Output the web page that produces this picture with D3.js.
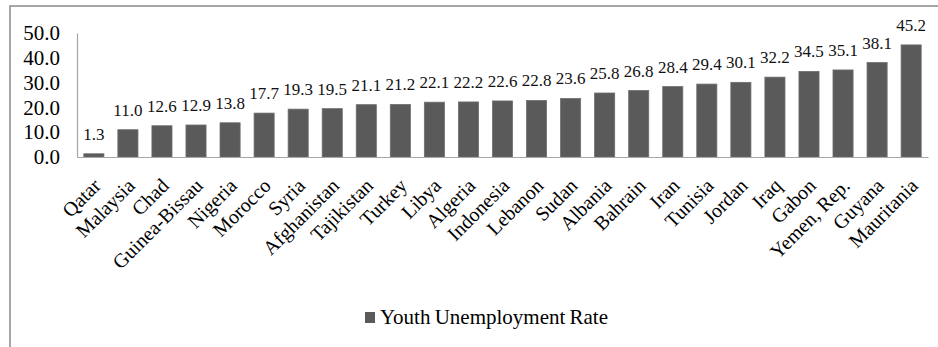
<!DOCTYPE html>
<html><head><meta charset="utf-8">
<script src="https://cdn.jsdelivr.net/npm/d3@7/dist/d3.min.js"></script>
<style>body{margin:0;background:#fff}svg{display:block}</style>
</head><body><svg id="c" width="938" height="347"></svg>
<script>
const categories = ["Qatar","Malaysia","Chad","Guinea-Bissau","Nigeria","Morocco","Syria","Afghanistan","Tajikistan","Turkey","Libya","Algeria","Indonesia","Lebanon","Sudan","Albania","Bahrain","Iran","Tunisia","Jordan","Iraq","Gabon","Yemen, Rep.","Guyana","Mauritania"];
const values = [1.3,11.0,12.6,12.9,13.8,17.7,19.3,19.5,21.1,21.2,22.1,22.2,22.6,22.8,23.6,25.8,26.8,28.4,29.4,30.1,32.2,34.5,35.1,38.1,45.2];
const yTicks = [0,10,20,30,40,50];
const seriesName = "Youth Unemployment Rate";
const FONT = "'Liberation Serif', 'Times New Roman', Times, serif";

const svg = d3.select("#c");
svg.append("rect").attr("x",10).attr("y",6).attr("width",1000).attr("height",400)
  .attr("fill","none").attr("stroke","#8a8a8a").attr("stroke-width",1.5);

const x = d3.scaleBand().domain(categories).range([77,928]).paddingInner(0.41).paddingOuter(0.2);
const y = d3.scaleLinear().domain([0,50]).range([157,33]);

const ya = svg.append("g").attr("transform","translate(77,0)")
  .call(d3.axisLeft(y).tickValues(yTicks).tickFormat(d3.format(".1f")).tickSize(0).tickPadding(17));
ya.attr("font-family",null).attr("font-size",null);
ya.select(".domain").attr("stroke","#a6a6a6").attr("stroke-width",1.2);
ya.selectAll("text").style("font-family",FONT).style("font-size","21px").attr("fill","#000");

svg.append("g").selectAll("rect").data(values).join("rect")
  .attr("x",(d,i)=>x(categories[i])).attr("width",x.bandwidth())
  .attr("y",d=>y(d)).attr("height",d=>y(0)-y(d))
  .attr("fill","#5a5a5a").attr("stroke","#6e6e6e").attr("stroke-width",0.8);

const xa = svg.append("g").attr("transform","translate(0,157)")
  .call(d3.axisBottom(x).tickSize(0).tickSizeOuter(0).tickPadding(0));
xa.attr("font-family",null).attr("font-size",null);
xa.select(".domain").attr("stroke","#a6a6a6").attr("stroke-width",1.2);
xa.selectAll("text").remove();
xa.selectAll(".tick").append("g").attr("transform","translate(8,30)")
  .append("text").attr("transform","rotate(-45)")
  .style("font-family",FONT).style("font-size","20px").attr("fill","#000")
  .attr("text-anchor","end").text(d=>d);

svg.append("g").selectAll("text").data(values).join("text")
  .attr("x",(d,i)=>x(categories[i])+x.bandwidth()/2).attr("y",d=>y(d)-14)
  .attr("text-anchor","middle").style("font-family",FONT).style("font-size","17px").attr("fill","#111")
  .text(d=>d3.format(".1f")(d));

const lg = svg.append("g").attr("transform","translate(365,312)");
lg.append("rect").attr("width",10).attr("height",11).attr("fill","#5a5a5a");
lg.append("text").attr("x",15).attr("y",12).style("font-family",FONT).style("font-size","21px").attr("word-spacing",-1).text(seriesName);
</script></body></html>
